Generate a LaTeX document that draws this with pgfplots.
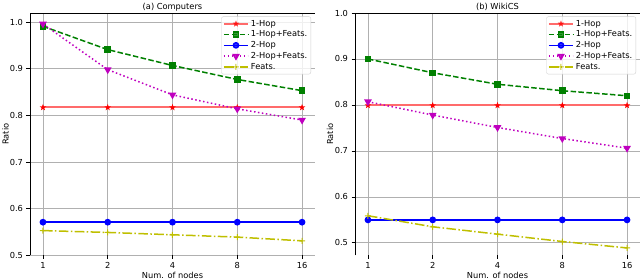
\documentclass[border=0pt]{standalone}
\usepackage{pgfplots}
\pgfplotsset{compat=1.18}
\usepackage{fontspec}
\setmainfont{DejaVu Sans}
\usetikzlibrary{plotmarks}

\definecolor{mr}{rgb}{1,0,0}
\definecolor{mrl}{rgb}{1,0.42,0.42}
\definecolor{mg}{rgb}{0,0.5,0}
\definecolor{mb}{rgb}{0,0,1}
\definecolor{mm}{rgb}{0.75,0,0.75}
\definecolor{my}{rgb}{0.75,0.75,0}
\definecolor{gridc}{rgb}{0.69,0.69,0.69}

\pgfdeclareplotmark{fstar}{%
  \pgfpathmoveto{\pgfqpointpolar{90}{1.45\pgfplotmarksize}}%
  \pgfpathlineto{\pgfqpointpolar{126}{0.6\pgfplotmarksize}}%
  \pgfpathlineto{\pgfqpointpolar{162}{1.45\pgfplotmarksize}}%
  \pgfpathlineto{\pgfqpointpolar{198}{0.6\pgfplotmarksize}}%
  \pgfpathlineto{\pgfqpointpolar{234}{1.45\pgfplotmarksize}}%
  \pgfpathlineto{\pgfqpointpolar{270}{0.6\pgfplotmarksize}}%
  \pgfpathlineto{\pgfqpointpolar{306}{1.45\pgfplotmarksize}}%
  \pgfpathlineto{\pgfqpointpolar{342}{0.6\pgfplotmarksize}}%
  \pgfpathlineto{\pgfqpointpolar{18}{1.45\pgfplotmarksize}}%
  \pgfpathlineto{\pgfqpointpolar{54}{0.6\pgfplotmarksize}}%
  \pgfpathclose
  \pgfusepathqfill}

\pgfdeclareplotmark{thinplus}{%
  \pgfpathrectangle{\pgfqpoint{-\pgfplotmarksize}{-0.5bp}}{\pgfqpoint{2\pgfplotmarksize}{1bp}}%
  \pgfpathrectangle{\pgfqpoint{-0.5bp}{-\pgfplotmarksize}}{\pgfqpoint{1bp}{2\pgfplotmarksize}}%
  \pgfusepathqfill}

\pgfplotstableread{
x hop1 hop1f hop2 hop2f feats
0 0.817 0.991 0.571 0.996 0.553
1 0.817 0.941 0.571 0.898 0.549
2 0.817 0.907 0.571 0.844 0.544
3 0.817 0.877 0.571 0.814 0.539
4 0.817 0.853 0.571 0.790 0.531
}\computers

\pgfplotstableread{
x hop1 hop1f hop2 hop2f feats
0 0.799 0.900 0.550 0.807 0.559
1 0.799 0.870 0.550 0.778 0.535
2 0.799 0.845 0.550 0.751 0.519
3 0.799 0.831 0.550 0.727 0.503
4 0.799 0.820 0.550 0.706 0.489
}\wikics

\pgfplotsset{
  mystyle/.style={
    scale only axis,
    width=285bp, height=242.3bp,
    xmin=-0.2, xmax=4.2,
    xtick={0,1,2,3,4},
    xticklabels={1,2,4,8,16},
    ytick={0.5,0.6,0.7,0.8,0.9,1.0},
    yticklabel style={/pgf/number format/fixed, /pgf/number format/precision=1, /pgf/number format/fixed zerofill},
    /pgf/number format/assume math mode=true,
    tick label style={font=\fontsize{8.3}{10}\selectfont, black},
    label style={font=\fontsize{8.3}{10}\selectfont},
    every axis title/.style={font=\fontsize{8.3}{10}\selectfont, at={(axis description cs:0.5,1)}, anchor=base, yshift=3bp},
    xlabel style={at={(axis description cs:0.5,0)}, anchor=base, yshift=-23bp},
    ylabel style={at={(axis description cs:-0.086,0.5)}, anchor=center},
    xmajorgrids, ymajorgrids,
    major grid style={gridc, line width=0.8bp},
    axis line style={draw=none},
    tick align=outside,
    xtick pos=bottom, ytick pos=left,
    major tick length=3.5bp,
    tick style={black, line width=0.8bp},
    legend cell align=left,
    legend style={font=\fontsize{8.3}{10}\selectfont, draw=gray!35, rounded corners=2bp,
      fill=white, fill opacity=0.8, text opacity=1,
      at={(axis description cs:0.986,0.986)}, anchor=north east,
      inner sep=1.5bp, row sep=-0.8bp},
    legend image code/.code={%
      \draw[mark repeat=2,mark phase=2] plot coordinates {(0bp,0bp) (12bp,0bp) (24bp,0bp)};},
    every axis plot/.append style={line width=1.5bp, mark size=2.6bp},
  },
  s1/.style={color=mrl, line width=2bp, mark=fstar, mark options={solid, fill=mr, draw=mr, mark size=2.4bp}},
  s2/.style={color=mg, dash pattern=on 5.5bp off 2.4bp, mark=square*, mark options={solid, fill=mg, mark size=2.5bp}},
  s3/.style={color=mb, mark=*, mark options={solid, fill=mb, mark size=2.6bp}},
  s4/.style={color=mm, dash pattern=on 1.5bp off 2.5bp, mark=triangle*, mark options={solid, fill=mm, rotate=180, mark size=3bp}},
  s5/.style={color=my, dash pattern=on 9.6bp off 2.4bp on 1.5bp off 2.4bp, mark=thinplus, mark options={solid, fill=my, mark size=3bp}},
}

\begin{document}
\begin{tikzpicture}
\path[use as bounding box] (-30bp,-24bp) rectangle (610bp,255.3bp);
\begin{axis}[mystyle, at={(0bp,0bp)}, anchor=south west,
  ymin=0.5, ymax=1.0195,
  title={(a) Computers}, xlabel={Num. of nodes}, ylabel={Ratio}]
\addplot[s1] table[x=x,y=hop1] {\computers};
\addlegendentry{1-Hop}
\addplot[s2] table[x=x,y=hop1f] {\computers};
\addlegendentry{1-Hop+Feats.}
\addplot[s3] table[x=x,y=hop2] {\computers};
\addlegendentry{2-Hop}
\addplot[s4] table[x=x,y=hop2f] {\computers};
\addlegendentry{2-Hop+Feats.}
\addplot[s5] table[x=x,y=feats] {\computers};
\addlegendentry{Feats.}
\draw[black, line width=0.8bp] (rel axis cs:0,0) -- (rel axis cs:0,1) -- (rel axis cs:1,1) -- (rel axis cs:1,0);
\end{axis}
\begin{axis}[mystyle, at={(325bp,0bp)}, anchor=south west,
  ymin=0.473, ymax=1.0,
  title={(b) WikiCS}, xlabel={Num. of nodes}, ylabel={Ratio},
  ylabel style={at={(axis description cs:-0.088,0.5)}}]
\addplot[s1] table[x=x,y=hop1] {\wikics};
\addlegendentry{1-Hop}
\addplot[s2] table[x=x,y=hop1f] {\wikics};
\addlegendentry{1-Hop+Feats.}
\addplot[s3] table[x=x,y=hop2] {\wikics};
\addlegendentry{2-Hop}
\addplot[s4] table[x=x,y=hop2f] {\wikics};
\addlegendentry{2-Hop+Feats.}
\addplot[s5] table[x=x,y=feats] {\wikics};
\addlegendentry{Feats.}
\draw[black, line width=0.8bp] (rel axis cs:0,0) -- (rel axis cs:0,1) -- (rel axis cs:1,1) -- (rel axis cs:1,0);
\end{axis}
\end{tikzpicture}
\end{document}
